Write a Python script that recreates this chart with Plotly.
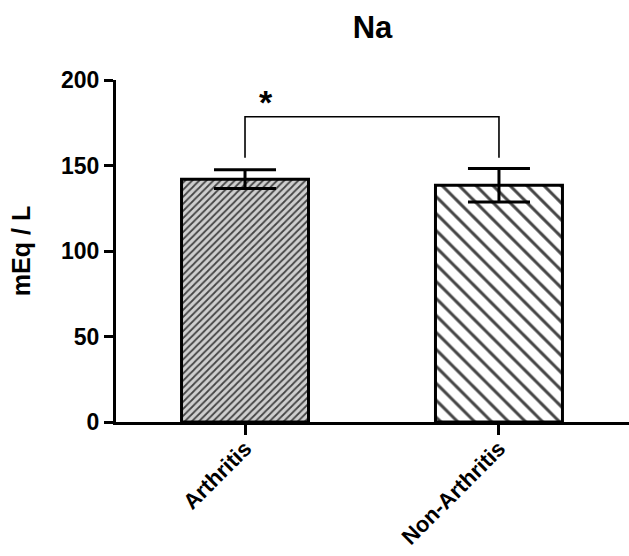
import plotly.graph_objects as go

# Data
categories = ["Arthritis", "Non-Arthritis"]
means = [142, 138.5]
errors = [5.5, 9.8]
y_ticks = [0, 50, 100, 150, 200]

# Significance bracket (data units)
bracket_y = 178.5
bracket_leg_bottom = 154.5
sig_label = "*"

FONT = "Liberation Sans, Arial, sans-serif"

fig = go.Figure()

fig.add_trace(go.Bar(
    x=[0, 1],
    y=means,
    width=0.5,
    marker=dict(
        color=["#cfcfcf", "white"],
        line=dict(color="black", width=3),
        pattern=dict(
            shape=["/", "\\"],
            size=[5, 12],
            solidity=[0.35, 0.25],
            fgcolor="black",
            fgopacity=1,
            fillmode="overlay",
        ),
    ),
    error_y=dict(type="data", array=errors, visible=True,
                 color="black", thickness=3, width=31),
    showlegend=False,
))

# significance bracket
fig.add_shape(type="path",
              path=f"M 0,{bracket_leg_bottom} L 0,{bracket_y} L 1,{bracket_y} L 1,{bracket_leg_bottom}",
              xref="x", yref="y", line=dict(color="black", width=1.6))
fig.add_annotation(x=0.083, y=bracket_y, xref="x", yref="y", text=f"<b>{sig_label}</b>",
                   showarrow=False, yanchor="bottom", yshift=-6,
                   font=dict(family=FONT, size=34, color="black"))

fig.update_layout(
    width=629, height=556,
    margin=dict(l=116, r=0, t=80, b=134, autoexpand=False),
    paper_bgcolor="white", plot_bgcolor="white",
    title=dict(text="<b>Na</b>", x=0.5, xref="paper", y=1 - 27 / 556, yref="container",
               xanchor="center", yanchor="middle",
               font=dict(family=FONT, size=31, color="black")),
    font=dict(family=FONT, color="black"),
)

fig.update_xaxes(
    range=[-0.508, 1.512],
    tickmode="array", tickvals=[0, 1], ticktext=categories,
    tickangle=-45, automargin=False, ticklabelstandoff=-8,
    ticks="outside", ticklen=10, tickwidth=3, tickcolor="black",
    showline=True, linecolor="black", linewidth=3,
    showgrid=False, zeroline=False,
    tickfont=dict(family=FONT, size=22, color="black", weight="bold"),
)
fig.update_yaxes(
    range=[0, 200],
    tickmode="array", tickvals=y_ticks, automargin=False,
    ticks="outside", ticklen=9, tickwidth=3, tickcolor="black",
    showline=True, linecolor="black", linewidth=3,
    showgrid=False, zeroline=False,
    tickfont=dict(family=FONT, size=23, color="black", weight="bold"),
    title=dict(text="<b>mEq / L</b>", standoff=24,
               font=dict(family=FONT, size=25, color="black")),
)

fig.write_html("out.html")
